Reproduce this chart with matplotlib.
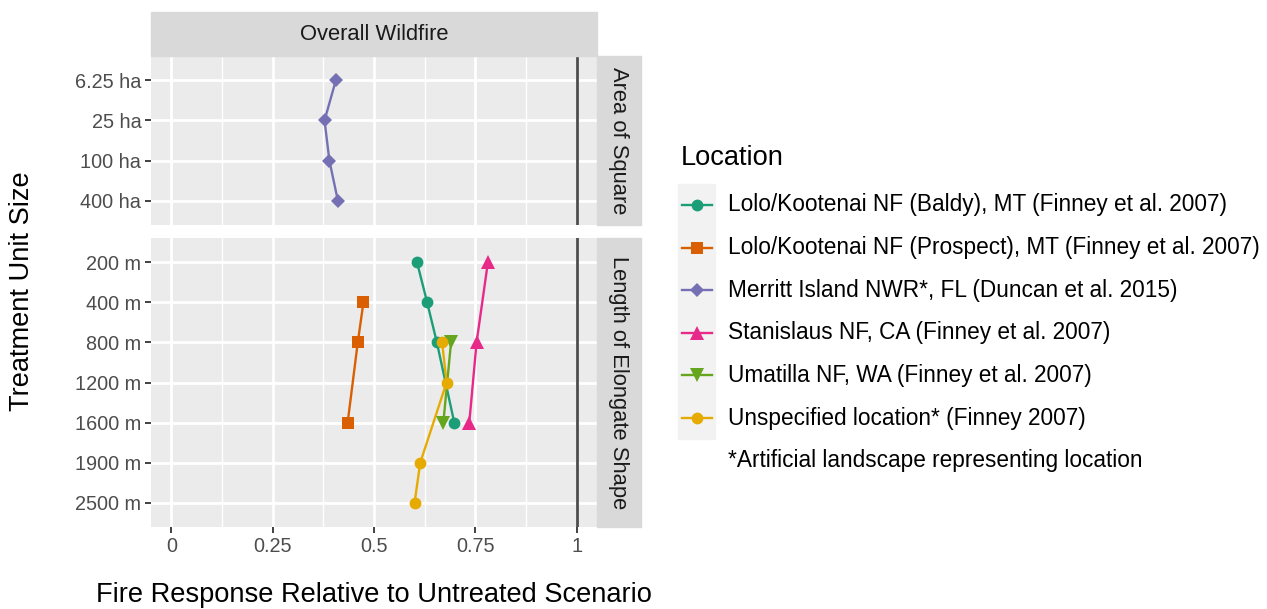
import numpy as np
import matplotlib
matplotlib.use("Agg")
import matplotlib.pyplot as plt
from matplotlib.patches import Rectangle
from matplotlib.lines import Line2D

plt.rcParams["font.family"] = ["Liberation Sans", "DejaVu Sans"]

# ---- data ----
sizes_area = ["6.25 ha", "25 ha", "100 ha", "400 ha"]
sizes_length = ["200 m", "400 m", "800 m", "1200 m", "1600 m", "1900 m", "2500 m"]

baldy_size = ["200 m", "400 m", "800 m", "1600 m"]
baldy_val = [0.606, 0.631, 0.655, 0.698]
prospect_size = ["400 m", "800 m", "1600 m"]
prospect_val = [0.474, 0.460, 0.435]
merritt_size = ["6.25 ha", "25 ha", "100 ha", "400 ha"]
merritt_val = [0.406, 0.378, 0.390, 0.411]
stanislaus_size = ["200 m", "800 m", "1600 m"]
stanislaus_val = [0.781, 0.753, 0.735]
umatilla_size = ["800 m", "1600 m"]
umatilla_val = [0.690, 0.671]
unspec_size = ["800 m", "1200 m", "1900 m", "2500 m"]
unspec_val = [0.668, 0.679, 0.614, 0.600]

labels = [
    "Lolo/Kootenai NF (Baldy), MT (Finney et al. 2007)",
    "Lolo/Kootenai NF (Prospect), MT (Finney et al. 2007)",
    "Merritt Island NWR*, FL (Duncan et al. 2015)",
    "Stanislaus NF, CA (Finney et al. 2007)",
    "Umatilla NF, WA (Finney et al. 2007)",
    "Unspecified location* (Finney 2007)",
]
footnote = "*Artificial landscape representing location"
colors = ["#1B9E77", "#D95F02", "#7570B3", "#E7298A", "#66A61E", "#E6AB02"]
markers = ["o", "s", "D", "^", "v", "o"]
msizes = [8.5, 8, 7, 10, 10, 8.5]

series = [
    (baldy_size, baldy_val),
    (prospect_size, prospect_val),
    (merritt_size, merritt_val),
    (stanislaus_size, stanislaus_val),
    (umatilla_size, umatilla_val),
    (unspec_size, unspec_val),
]

x_ticks = [0, 0.25, 0.5, 0.75, 1]
x_ticklabels = ["0", "0.25", "0.5", "0.75", "1"]

TICK_FS = 14.3
TEXT_FS = 15.8
LEG_FS = 16.3
TITLE_FS = 19.6

W, H = 1267, 609
fig = plt.figure(figsize=(W / 100, H / 100), dpi=100)


def fx(px):
    return px / W


def fy(py):
    return 1 - py / H


panel_l, panel_r = 151, 597
top_t, top_b = 56, 225
bot_t, bot_b = 238, 527

ax_top = fig.add_axes([fx(panel_l), fy(top_b), fx(panel_r - panel_l), (top_b - top_t) / H])
ax_bot = fig.add_axes([fx(panel_l), fy(bot_b), fx(panel_r - panel_l), (bot_b - bot_t) / H])

for ax, cats in [(ax_top, sizes_area), (ax_bot, sizes_length)]:
    ax.set_facecolor("#EBEBEB")
    for s in ax.spines.values():
        s.set_visible(False)
    ax.set_xlim(-0.05, 1.05)
    ax.set_ylim(len(cats) - 1 + 0.6, -0.6)
    ax.set_xticks(x_ticks)
    ax.set_xticks([0.125, 0.375, 0.625, 0.875], minor=True)
    ax.set_yticks(range(len(cats)))
    ax.set_yticklabels(cats)
    ax.grid(which="major", color="white", lw=2.0)
    ax.grid(which="minor", axis="x", color="white", lw=1.0)
    ax.set_axisbelow(True)
    ax.tick_params(axis="both", which="major", length=4, width=1.3, color="#333333",
                   labelcolor="#4D4D4D", labelsize=TICK_FS, pad=3)
    ax.tick_params(axis="x", which="minor", length=0)
    ax.axvline(1, color="#4D4D4D", lw=2.0, zorder=2)

ax_top.tick_params(axis="x", labelbottom=False, length=0)
ax_bot.set_xticklabels(x_ticklabels)

# draw series
for (sz, val), c, m, ms in zip(series, colors, markers, msizes):
    if sz[0] in sizes_area:
        ax, cats = ax_top, sizes_area
    else:
        ax, cats = ax_bot, sizes_length
    ypos = [cats.index(s) for s in sz]
    ax.plot(val, ypos, color=c, lw=1.7, zorder=3)
    ax.plot(val, ypos, ls="none", marker=m, color=c, markersize=ms, mew=0, zorder=4)

# strips
fig.patches.append(Rectangle((fx(panel_l), fy(top_t)), fx(panel_r - panel_l), (top_t - 12) / H,
                             transform=fig.transFigure, color="#D9D9D9", zorder=0))
fig.text(fx((panel_l + panel_r) / 2), fy((12 + top_t) / 2), "Overall Wildfire",
         ha="center", va="center", fontsize=TEXT_FS, color="#1A1A1A")
for t, b, txt in [(top_t, top_b, "Area of Square"), (bot_t, bot_b, "Length of Elongate Shape")]:
    fig.patches.append(Rectangle((fx(panel_r), fy(b)), fx(44), (b - t) / H,
                                 transform=fig.transFigure, color="#D9D9D9", zorder=0))
    fig.text(fx(panel_r + 22), fy((t + b) / 2), txt, rotation=-90, ha="center", va="center",
             fontsize=TEXT_FS, color="#1A1A1A")

# axis titles
fig.text(fx((panel_l + panel_r) / 2), fy(595), "Fire Response Relative to Untreated Scenario",
         ha="center", va="center", fontsize=TITLE_FS, color="black")
fig.text(fx(22), fy((top_t + bot_b) / 2), "Treatment Unit Size", rotation=90,
         ha="center", va="center", fontsize=TITLE_FS, color="black")

# legend
lax = fig.add_axes([0, 0, 1, 1], facecolor="none")
lax.set_xlim(0, W)
lax.set_ylim(H, 0)
lax.axis("off")
lax.text(681, 158, "Location", ha="left", va="center", fontsize=TITLE_FS)
lax.add_patch(Rectangle((678, 184), 37, 255, color="#F2F2F2", zorder=0))
row_y = 205
for lab, c, m, ms in zip(labels, colors, markers, msizes):
    lax.add_line(Line2D([682, 712], [row_y, row_y], color=c, lw=1.7))
    lax.add_line(Line2D([697], [row_y], marker=m, color=c, markersize=ms, mew=0, ls="none"))
    lax.text(728, row_y, lab, ha="left", va="center", fontsize=LEG_FS)
    row_y += 42.6
lax.text(728, row_y, footnote, ha="left", va="center", fontsize=LEG_FS)

fig.savefig("out.png", dpi=100)
